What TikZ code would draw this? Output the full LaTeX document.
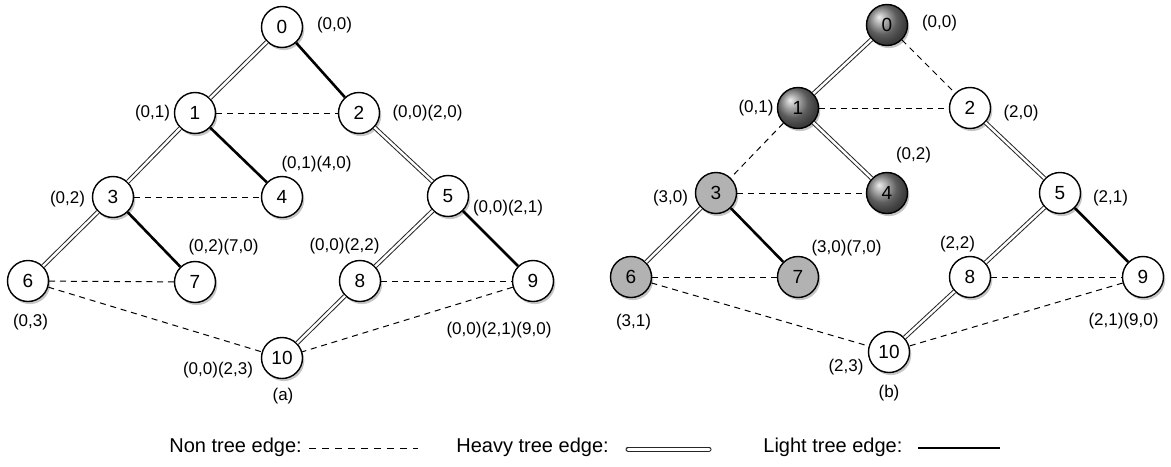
\documentclass[tikz,border=0pt]{standalone}
\usepackage{fontspec}
\setmainfont{Liberation Sans}
\usepackage{tikz}
\usetikzlibrary{shadows}

\tikzset{
  vertex/.style={circle, draw, line width=0.7pt, fill=white, minimum size=20.5pt, inner sep=0pt,
    font=\fontsize{9.5}{10}\selectfont, drop shadow={opacity=0.45, shadow xshift=0.9pt, shadow yshift=-1.3pt}},
  darkv/.style={vertex, shading=ball, ball color=black!48},
  grayv/.style={vertex, fill=black!30},
  lbl/.style={font=\fontsize{8.5}{10}\selectfont, inner sep=0pt},
  heavyedge/.style={draw=black!85, line width=0.5pt, double=white, double distance=1.2pt},
  lightedge/.style={line width=1.3pt},
  nontreeedge/.style={line width=0.5pt, dash pattern=on 3pt off 2.4pt}
}

\begin{document}
\begin{tikzpicture}[x=0.5pt, y=-0.5pt]
\useasboundingbox (0,0) rectangle (1171,466);

% tree (a)
\node [vertex] (a0) at (282,27) {0};
\node [vertex] (a1) at (195,113) {1};
\node [vertex] (a2) at (359,113) {2};
\node [vertex] (a3) at (113,197) {3};
\node [vertex] (a4) at (282,197) {4};
\node [vertex] (a5) at (448,196) {5};
\node [vertex] (a6) at (28,281) {6};
\node [vertex] (a7) at (195,282) {7};
\node [vertex] (a8) at (360,281) {8};
\node [vertex] (a9) at (533,281) {9};
\node [vertex] (a10) at (282,358) {10};

\draw [heavyedge] (a0) -- (a1); \draw [lightedge] (a0) -- (a2);
\draw [nontreeedge] (a1) -- (a2);
\draw [heavyedge] (a1) -- (a3); \draw [lightedge] (a1) -- (a4);
\draw [heavyedge] (a2) -- (a5);
\draw [nontreeedge] (a3) -- (a4);
\draw [heavyedge] (a3) -- (a6); \draw [lightedge] (a3) -- (a7);
\draw [heavyedge] (a5) -- (a8); \draw [lightedge] (a5) -- (a9);
\draw [nontreeedge] (a6) -- (a7); \draw [nontreeedge] (a6) -- (a10);
\draw [nontreeedge] (a8) -- (a9); \draw [nontreeedge] (a9) -- (a10);
\draw [heavyedge] (a8) -- (a10);

\node [lbl] (la0) at (334.5,25) {(0,0)};
\node [lbl] (la1) at (152.5,113) {(0,1)};
\node [lbl] (la2) at (427.5,113) {(0,0)(2,0)};
\node [lbl] (la3) at (67.5,199) {(0,2)};
\node [lbl] (la4) at (316.5,164) {(0,1)(4,0)};
\node [lbl] (la5) at (508,208) {(0,0)(2,1)};
\node [lbl] (la6) at (30.5,322) {(0,3)};
\node [lbl] (la7) at (223.5,247) {(0,2)(7,0)};
\node [lbl] (la8) at (344.5,246) {(0,0)(2,2)};
\node [lbl] (la9) at (499,330) {(0,0)(2,1)(9,0)};
\node [lbl] (la10) at (218,370) {(0,0)(2,3)};
\node [lbl] (capa) at (283,396) {(a)};

% tree (b)
\node [darkv] (b0) at (887,25) {0};
\node [darkv] (b1) at (798,108) {1};
\node [vertex] (b2) at (970,108) {2};
\node [grayv] (b3) at (716,193) {3};
\node [darkv] (b4) at (887,193) {4};
\node [vertex] (b5) at (1060,193) {5};
\node [grayv] (b6) at (631,277) {6};
\node [grayv] (b7) at (798,277) {7};
\node [vertex] (b8) at (970,277) {8};
\node [vertex] (b9) at (1143,277) {9};
\node [vertex] (b10) at (889,352) {10};

\draw [heavyedge] (b0) -- (b1); \draw [nontreeedge] (b0) -- (b2);
\draw [nontreeedge] (b1) -- (b2);
\draw [nontreeedge] (b1) -- (b3); \draw [heavyedge] (b1) -- (b4);
\draw [heavyedge] (b2) -- (b5);
\draw [nontreeedge] (b3) -- (b4);
\draw [heavyedge] (b3) -- (b6); \draw [lightedge] (b3) -- (b7);
\draw [heavyedge] (b5) -- (b8); \draw [lightedge] (b5) -- (b9);
\draw [nontreeedge] (b6) -- (b7); \draw [nontreeedge] (b6) -- (b10);
\draw [nontreeedge] (b8) -- (b9); \draw [nontreeedge] (b9) -- (b10);
\draw [heavyedge] (b8) -- (b10);

\node [lbl] (lb0) at (939.5,23) {(0,0)};
\node [lbl] (lb1) at (756,108) {(0,1)};
\node [lbl] (lb2) at (1021,113) {(2,0)};
\node [lbl] (lb4) at (913.5,155) {(0,2)};
\node [lbl] (lb3) at (670.5,198) {(3,0)};
\node [lbl] (lb5) at (1110.5,198) {(2,1)};
\node [lbl] (lb7) at (846.5,248) {(3,0)(7,0)};
\node [lbl] (lb8) at (957.5,244) {(2,2)};
\node [lbl] (lb6) at (633.5,322) {(3,1)};
\node [lbl] (lb9) at (1123.5,321) {(2,1)(9,0)};
\node [lbl] (lb10) at (846,367) {(2,3)};
\node [lbl] (capb) at (889,393) {(b)};

% legend
\node [right, inner sep=0pt, font=\fontsize{10}{12}\selectfont] (lnon) at (169,447) {Non tree edge:};
\node [right, inner sep=0pt, font=\fontsize{10}{12}\selectfont] (lheavy) at (456,447) {Heavy tree edge:};
\node [right, inner sep=0pt, font=\fontsize{10}{12}\selectfont] (llight) at (763,447) {Light tree edge:};
\coordinate (n1) at (309,448); \coordinate (n2) at (418,448);
\coordinate (h1) at (628,449); \coordinate (h2) at (709,449);
\coordinate (t1) at (918,448); \coordinate (t2) at (1000,448);
\draw [nontreeedge, dash pattern=on 3.5pt off 3pt] (n1) -- (n2);
\draw [heavyedge, double distance=1.5pt, line cap=round] (h1) -- (h2);
\draw [lightedge] (t1) -- (t2);
\end{tikzpicture}
\end{document}
